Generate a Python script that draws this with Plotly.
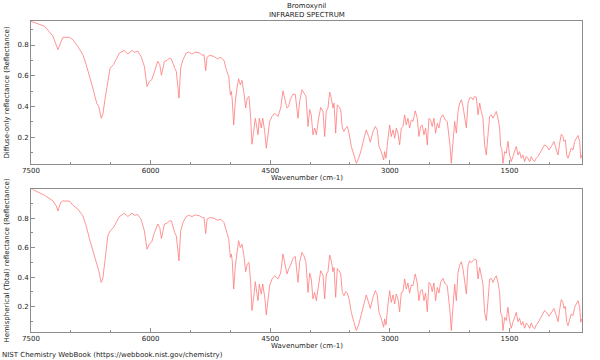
import plotly.graph_objects as go

# Top panel: diffuse-only reflectance
wn_top = [7500, 7329, 7225, 7183, 7162, 7129, 7100, 7016, 6975, 6912, 6850, 6808, 6766, 6725, 6675, 6650,
          6620, 6600, 6570, 6537, 6508, 6466, 6433, 6391, 6329, 6287, 6233, 6204, 6162, 6120, 6078, 6045,
          6015, 5986, 5951, 5910, 5885, 5864, 5826, 5793, 5764, 5740, 5698, 5678, 5644, 5623, 5594, 5553,
          5523, 5481, 5440, 5385, 5352, 5330, 5309, 5293, 5259, 5205, 5164, 5121, 5080, 5051, 5020, 5000,
          4988, 4976, 4958, 4938, 4917, 4896, 4875, 4854, 4829, 4808, 4788, 4766, 4745, 4729, 4707, 4687,
          4666, 4653, 4637, 4612, 4594, 4569, 4549, 4528, 4507, 4478, 4444, 4403, 4369, 4340, 4311, 4290,
          4269, 4248, 4215, 4186, 4152, 4131, 4102, 4077, 4052, 4026, 4005, 3985, 3964, 3943, 3922, 3892,
          3867, 3838, 3817, 3797, 3776, 3754, 3734, 3713, 3700, 3679, 3659, 3637, 3616, 3596, 3575, 3554,
          3533, 3512, 3483, 3450, 3420, 3391, 3358, 3324, 3295, 3265, 3245, 3211, 3182, 3157, 3136, 3115,
          3094, 3077, 3065, 3048, 3023, 3002, 2982, 2960, 2939, 2919, 2898, 2877, 2856, 2835, 2814, 2794,
          2773, 2752, 2731, 2710, 2681, 2656, 2635, 2614, 2593, 2572, 2551, 2530, 2509, 2489, 2468, 2447,
          2426, 2405, 2384, 2363, 2334, 2305, 2280, 2259, 2246, 2229, 2208, 2187, 2166, 2145, 2124, 2103,
          2082, 2061, 2040, 2020, 1999, 1978, 1957, 1936, 1915, 1894, 1873, 1853, 1832, 1811, 1790, 1769,
          1748, 1728, 1707, 1686, 1665, 1644, 1623, 1610, 1594, 1581, 1560, 1540, 1519, 1498, 1477, 1456,
          1435, 1414, 1393, 1373, 1352, 1331, 1310, 1289, 1268, 1247, 1226, 1205, 1184, 1164, 1143, 1109,
          1080, 1059, 1030, 1004, 975, 942, 912, 891, 870, 850, 829, 816, 799, 782, 766, 745,
          724, 703, 682, 661, 640, 619, 606, 594]
refl_diffuse = [0.954, 0.922, 0.857, 0.80, 0.77, 0.813, 0.85, 0.85, 0.835, 0.79, 0.737, 0.672, 0.585, 0.52, 0.42, 0.40,
                0.324, 0.346, 0.455, 0.563, 0.65, 0.672, 0.704, 0.748, 0.765, 0.741, 0.765, 0.752, 0.76, 0.726, 0.661, 0.53,
                0.563, 0.574, 0.628, 0.694, 0.672, 0.603, 0.694, 0.70, 0.715, 0.71, 0.65, 0.628, 0.455, 0.65, 0.704, 0.748,
                0.754, 0.741, 0.754, 0.748, 0.733, 0.737, 0.633, 0.72, 0.733, 0.726, 0.71, 0.72, 0.70, 0.64, 0.596, 0.476,
                0.498, 0.444, 0.28, 0.433, 0.52, 0.58, 0.541, 0.57, 0.487, 0.39, 0.455, 0.466, 0.324, 0.155, 0.238, 0.324,
                0.26, 0.216, 0.324, 0.26, 0.324, 0.238, 0.129, 0.216, 0.303, 0.335, 0.357, 0.335, 0.39, 0.502, 0.444, 0.39,
                0.40, 0.444, 0.48, 0.48, 0.324, 0.433, 0.509, 0.487, 0.466, 0.27, 0.38, 0.346, 0.216, 0.26, 0.216, 0.324,
                0.394, 0.368, 0.205, 0.368, 0.39, 0.494, 0.455, 0.39, 0.422, 0.227, 0.411, 0.40, 0.38, 0.26, 0.238, 0.26,
                0.27, 0.227, 0.14, 0.085, 0.031, 0.064, 0.118, 0.194, 0.248, 0.205, 0.168, 0.238, 0.27, 0.248, 0.14, 0.118,
                0.085, 0.053, 0.107, 0.064, 0.194, 0.28, 0.205, 0.248, 0.194, 0.26, 0.227, 0.151, 0.26, 0.27, 0.346, 0.28,
                0.324, 0.26, 0.313, 0.303, 0.372, 0.324, 0.205, 0.27, 0.28, 0.216, 0.26, 0.151, 0.324, 0.313, 0.27, 0.324,
                0.227, 0.292, 0.26, 0.324, 0.346, 0.313, 0.303, 0.216, 0.151, 0.031, 0.151, 0.303, 0.227, 0.368, 0.422, 0.444,
                0.40, 0.324, 0.26, 0.422, 0.455, 0.459, 0.444, 0.466, 0.459, 0.346, 0.422, 0.368, 0.324, 0.151, 0.085, 0.216,
                0.335, 0.346, 0.324, 0.346, 0.368, 0.324, 0.26, 0.14, 0.118, 0.031, 0.107, 0.096, 0.173, 0.085, 0.042, 0.075,
                0.107, 0.14, 0.085, 0.107, 0.064, 0.085, 0.042, 0.075, 0.064, 0.042, 0.075, 0.053, 0.042, 0.064, 0.075, 0.107,
                0.14, 0.151, 0.14, 0.118, 0.14, 0.173, 0.118, 0.085, 0.162, 0.22, 0.205, 0.173, 0.183, 0.085, 0.064, 0.096,
                0.129, 0.118, 0.173, 0.194, 0.212, 0.173, 0.064, 0.085]

# Bottom panel: hemispherical (total) reflectance
wn_bottom = wn_top
refl_total = [1.0, 0.955, 0.917, 0.883, 0.849, 0.905, 0.917, 0.915, 0.888, 0.861, 0.816, 0.748, 0.658, 0.579, 0.478, 0.444,
              0.365, 0.388, 0.523, 0.68, 0.714, 0.736, 0.77, 0.811, 0.834, 0.811, 0.834, 0.82, 0.824, 0.793, 0.714, 0.59,
              0.624, 0.64, 0.703, 0.76, 0.736, 0.662, 0.76, 0.766, 0.782, 0.782, 0.703, 0.68, 0.511, 0.714, 0.77, 0.811,
              0.82, 0.811, 0.822, 0.816, 0.804, 0.804, 0.696, 0.793, 0.804, 0.80, 0.786, 0.793, 0.77, 0.714, 0.658, 0.534,
              0.557, 0.511, 0.32, 0.478, 0.568, 0.647, 0.601, 0.624, 0.545, 0.437, 0.489, 0.50, 0.365, 0.174, 0.264, 0.37,
              0.286, 0.241, 0.354, 0.286, 0.354, 0.264, 0.145, 0.241, 0.343, 0.388, 0.41, 0.388, 0.428, 0.557, 0.489, 0.422,
              0.455, 0.478, 0.527, 0.541, 0.365, 0.50, 0.568, 0.545, 0.50, 0.297, 0.428, 0.388, 0.253, 0.297, 0.241, 0.365,
              0.444, 0.415, 0.253, 0.422, 0.437, 0.55, 0.511, 0.437, 0.466, 0.264, 0.459, 0.444, 0.422, 0.297, 0.275, 0.302,
              0.293, 0.253, 0.162, 0.095, 0.039, 0.077, 0.14, 0.219, 0.28, 0.23, 0.189, 0.264, 0.309, 0.28, 0.162, 0.135,
              0.099, 0.061, 0.118, 0.077, 0.219, 0.309, 0.23, 0.28, 0.219, 0.286, 0.253, 0.167, 0.297, 0.302, 0.388, 0.32,
              0.361, 0.293, 0.347, 0.343, 0.422, 0.361, 0.241, 0.309, 0.316, 0.241, 0.293, 0.167, 0.365, 0.354, 0.302, 0.361,
              0.241, 0.331, 0.293, 0.365, 0.392, 0.354, 0.343, 0.241, 0.174, 0.039, 0.174, 0.354, 0.241, 0.432, 0.482, 0.505,
              0.455, 0.365, 0.286, 0.478, 0.511, 0.50, 0.511, 0.523, 0.518, 0.388, 0.466, 0.415, 0.354, 0.162, 0.106, 0.241,
              0.388, 0.392, 0.365, 0.392, 0.41, 0.365, 0.297, 0.158, 0.14, 0.039, 0.128, 0.106, 0.196, 0.106, 0.054, 0.095,
              0.122, 0.162, 0.099, 0.122, 0.077, 0.099, 0.054, 0.09, 0.077, 0.054, 0.09, 0.061, 0.05, 0.077, 0.09, 0.128,
              0.162, 0.174, 0.158, 0.135, 0.158, 0.189, 0.14, 0.099, 0.18, 0.248, 0.23, 0.189, 0.203, 0.095, 0.072, 0.118,
              0.151, 0.14, 0.196, 0.219, 0.241, 0.196, 0.095, 0.118]

x_ticks = [7500, 6000, 4500, 3000, 1500]
x_tick_labels = ["7500", "6000", "4500", "3000", "1500"]
y_ticks = [0.2, 0.4, 0.6, 0.8]
y_tick_labels = ["0.2", "0.4", "0.6", "0.8"]

LINE = "#ff7a7a"
FRAME = "#8c8c8c"
FONT = dict(family="DejaVu Sans", size=7, color="#222")

fig = go.Figure()
fig.add_trace(go.Scatter(x=wn_top, y=refl_diffuse, mode="lines",
                         line=dict(color=LINE, width=0.8), xaxis="x", yaxis="y", showlegend=False))
fig.add_trace(go.Scatter(x=wn_bottom, y=refl_total, mode="lines",
                         line=dict(color=LINE, width=0.8), xaxis="x2", yaxis="y2", showlegend=False))

def xax(anchor):
    return dict(range=[7500, 590], tickmode="array", tickvals=x_ticks, ticktext=x_tick_labels,
                ticks="inside", ticklen=4, tickcolor=FRAME, showline=True, linecolor=FRAME, linewidth=1,
                mirror=True, showgrid=False, zeroline=False, anchor=anchor, tickfont=FONT,
                minor=dict(dtick=500, tick0=0, ticks="inside", ticklen=2, tickcolor=FRAME, showgrid=False))

def yax(anchor, domain, rng):
    return dict(domain=domain, range=rng, tickmode="array", tickvals=y_ticks, ticktext=y_tick_labels,
                ticks="inside", ticklen=4, tickcolor=FRAME, showline=True, linecolor=FRAME, linewidth=1,
                mirror=True, showgrid=False, zeroline=False, anchor=anchor, tickfont=FONT,
                minor=dict(dtick=0.1, tick0=0, ticks="inside", ticklen=2, tickcolor=FRAME, showgrid=False))

fig.update_layout(
    width=600, height=360,
    margin=dict(l=31, r=18, t=21, b=28),
    paper_bgcolor="white", plot_bgcolor="white",
    font=FONT,
    xaxis=xax("y"),
    yaxis=yax("x", [0.540, 1.0], [0.026, 0.956]),
    xaxis2=xax("y2"),
    yaxis2=yax("x2", [0.0, 0.459], [0.029, 0.996]),
)

annotations = [
    dict(text="Bromoxynil", x=0.5, xref="paper", y=1.0, yref="paper", yshift=15, showarrow=False,
         xanchor="center", yanchor="middle", font=FONT),
    dict(text="INFRARED SPECTRUM", x=0.5, xref="paper", y=1.0, yref="paper", yshift=6, showarrow=False,
         xanchor="center", yanchor="middle", font=FONT),
    dict(text="Wavenumber (cm-1)", x=0.5, xref="paper", y=0.540, yref="paper", yshift=-14, showarrow=False,
         xanchor="center", yanchor="middle", font=FONT),
    dict(text="Wavenumber (cm-1)", x=0.5, xref="paper", y=0.0, yref="paper", yshift=-14, showarrow=False,
         xanchor="center", yanchor="middle", font=FONT),
    dict(text="Diffuse-only reflectance (Reflectance)", x=0, xref="paper", xshift=-24, y=0.77, yref="paper",
         showarrow=False, textangle=-90, xanchor="center", yanchor="middle", font=FONT),
    dict(text="Hemispherical (Total) reflectance (Reflectance)", x=0, xref="paper", xshift=-24, y=0.2295,
         yref="paper", showarrow=False, textangle=-90, xanchor="center", yanchor="middle", font=FONT),
    dict(text="NIST Chemistry WebBook (https://webbook.nist.gov/chemistry)", x=0, xref="paper", xshift=-31,
         y=0.0, yref="paper", yshift=-23, showarrow=False, xanchor="left", yanchor="middle", font=FONT),
]
fig.update_layout(annotations=annotations)

fig.write_html("out.html", config={"displayModeBar": False},
               post_script="document.body.style.margin='0';document.body.style.overflow='hidden';")
